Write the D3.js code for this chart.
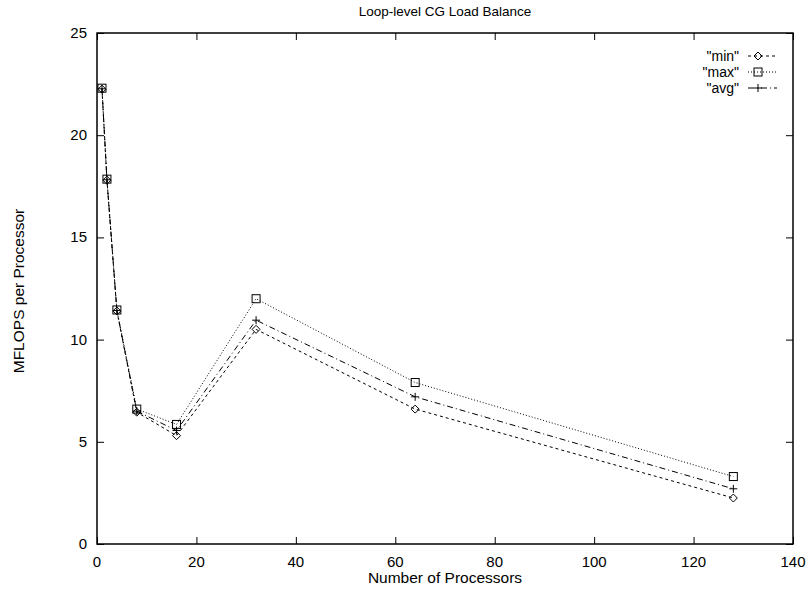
<!DOCTYPE html>
<html lang="en">
<head>
<meta charset="utf-8">
<title>Loop-level CG Load Balance</title>
<script src="https://cdn.jsdelivr.net/npm/d3@7/dist/d3.min.js"></script>
<style>
  body { margin: 0; background: #fff; }
  text { font-family: "Liberation Sans", Arial, Helvetica, sans-serif; font-size: 15px; fill: #000; }
</style>
</head>
<body>
<div id="chart"></div>
<script>
var procs = [1, 2, 4, 8, 16, 32, 64, 128];
var minVals = [22.25, 17.8, 11.4, 6.45, 5.3, 10.5, 6.6, 2.25];
var maxVals = [22.3, 17.85, 11.45, 6.6, 5.85, 12.0, 7.9, 3.3];
var avgVals = [22.27, 17.82, 11.42, 6.5, 5.55, 10.95, 7.2, 2.7];
var seriesNames = ['"min"', '"max"', '"avg"'];
var xTicks = [0, 20, 40, 60, 80, 100, 120, 140];
var yTicks = [0, 5, 10, 15, 20, 25];

var width = 809, height = 591;
var margin = { top: 33, right: 16, bottom: 47, left: 97 };
var w = width - margin.left - margin.right,
    h = height - margin.top - margin.bottom;

var svg = d3.select("#chart").append("svg")
    .attr("width", width)
    .attr("height", height);

var g = svg.append("g")
    .attr("transform", "translate(" + margin.left + "," + margin.top + ")");

var x = d3.scaleLinear().domain([0, 140]).range([0, w]);
var y = d3.scaleLinear().domain([0, 25]).range([h, 0]);

// axes with inward ticks (gnuplot style, mirrored)
g.append("g")
    .attr("transform", "translate(0," + h + ")")
    .call(d3.axisTop(x).tickValues(xTicks).tickSize(7).tickFormat(""));
g.append("g")
    .call(d3.axisBottom(x).tickValues(xTicks).tickSize(7).tickFormat(""));
g.append("g")
    .call(d3.axisRight(y).tickValues(yTicks).tickSize(7).tickFormat(""));
g.append("g")
    .attr("transform", "translate(" + w + ",0)")
    .call(d3.axisLeft(y).tickValues(yTicks).tickSize(7).tickFormat(""));
g.selectAll(".domain").remove();
g.selectAll(".tick line").attr("stroke", "#000");

g.append("rect")
    .attr("width", w).attr("height", h)
    .attr("fill", "none").attr("stroke", "#000").attr("stroke-width", 1.5);

// tick labels
g.selectAll(".xlab").data(xTicks).enter().append("text")
    .attr("x", function(d) { return x(d); })
    .attr("y", h + 23)
    .attr("text-anchor", "middle")
    .text(function(d) { return d; });
g.selectAll(".ylab").data(yTicks).enter().append("text")
    .attr("x", -10)
    .attr("y", function(d) { return y(d) + 5; })
    .attr("text-anchor", "end")
    .text(function(d) { return d; });

svg.append("text")
    .attr("x", 445).attr("y", 16)
    .attr("text-anchor", "middle")
    .style("font-size", "13.5px")
    .text("Loop-level CG Load Balance");
svg.append("text")
    .attr("x", 445).attr("y", 583)
    .attr("text-anchor", "middle")
    .style("font-size", "15.5px")
    .text("Number of Processors");
svg.append("text")
    .attr("transform", "translate(24,291) rotate(-90)")
    .attr("text-anchor", "middle")
    .style("font-size", "15.5px")
    .text("MFLOPS per Processor");

var series = [
    { name: seriesNames[0], values: minVals, dash: "3,3", marker: "diamond" },
    { name: seriesNames[1], values: maxVals, dash: "1,2", marker: "square" },
    { name: seriesNames[2], values: avgVals, dash: "6,3,1,3", marker: "plus" }
];

var line = d3.line()
    .x(function(d) { return x(d[0]); })
    .y(function(d) { return y(d[1]); });

function drawMarker(sel, type) {
    if (type === "diamond") {
        sel.append("path").attr("d", "M0,-4L4,0L0,4L-4,0Z")
            .attr("fill", "none").attr("stroke", "#000");
    } else if (type === "square") {
        sel.append("rect").attr("x", -4).attr("y", -4).attr("width", 8).attr("height", 8)
            .attr("fill", "none").attr("stroke", "#000");
    } else {
        sel.append("path").attr("d", "M-4,0H4M0,-4V4")
            .attr("fill", "none").attr("stroke", "#000");
    }
}

series.forEach(function(s, i) {
    var pts = procs.map(function(p, j) { return [p, s.values[j]]; });
    g.append("path")
        .datum(pts)
        .attr("d", line)
        .attr("fill", "none")
        .attr("stroke", "#000")
        .attr("stroke-width", 1)
        .attr("stroke-dasharray", s.dash);
    g.selectAll(".m" + i).data(pts).enter().append("g")
        .attr("transform", function(d) { return "translate(" + x(d[0]) + "," + y(d[1]) + ")"; })
        .each(function() { drawMarker(d3.select(this), s.marker); });

    // legend
    var ly = 56 + i * 16;
    svg.append("text")
        .attr("x", 739).attr("y", ly + 5)
        .attr("text-anchor", "end")
        .style("font-size", "14px")
        .text(s.name);
    svg.append("line")
        .attr("x1", 748).attr("x2", 777)
        .attr("y1", ly).attr("y2", ly)
        .attr("stroke", "#000")
        .attr("stroke-dasharray", s.dash);
    var lm = svg.append("g").attr("transform", "translate(758," + ly + ")");
    drawMarker(lm, s.marker);
});
</script>
</body>
</html>
